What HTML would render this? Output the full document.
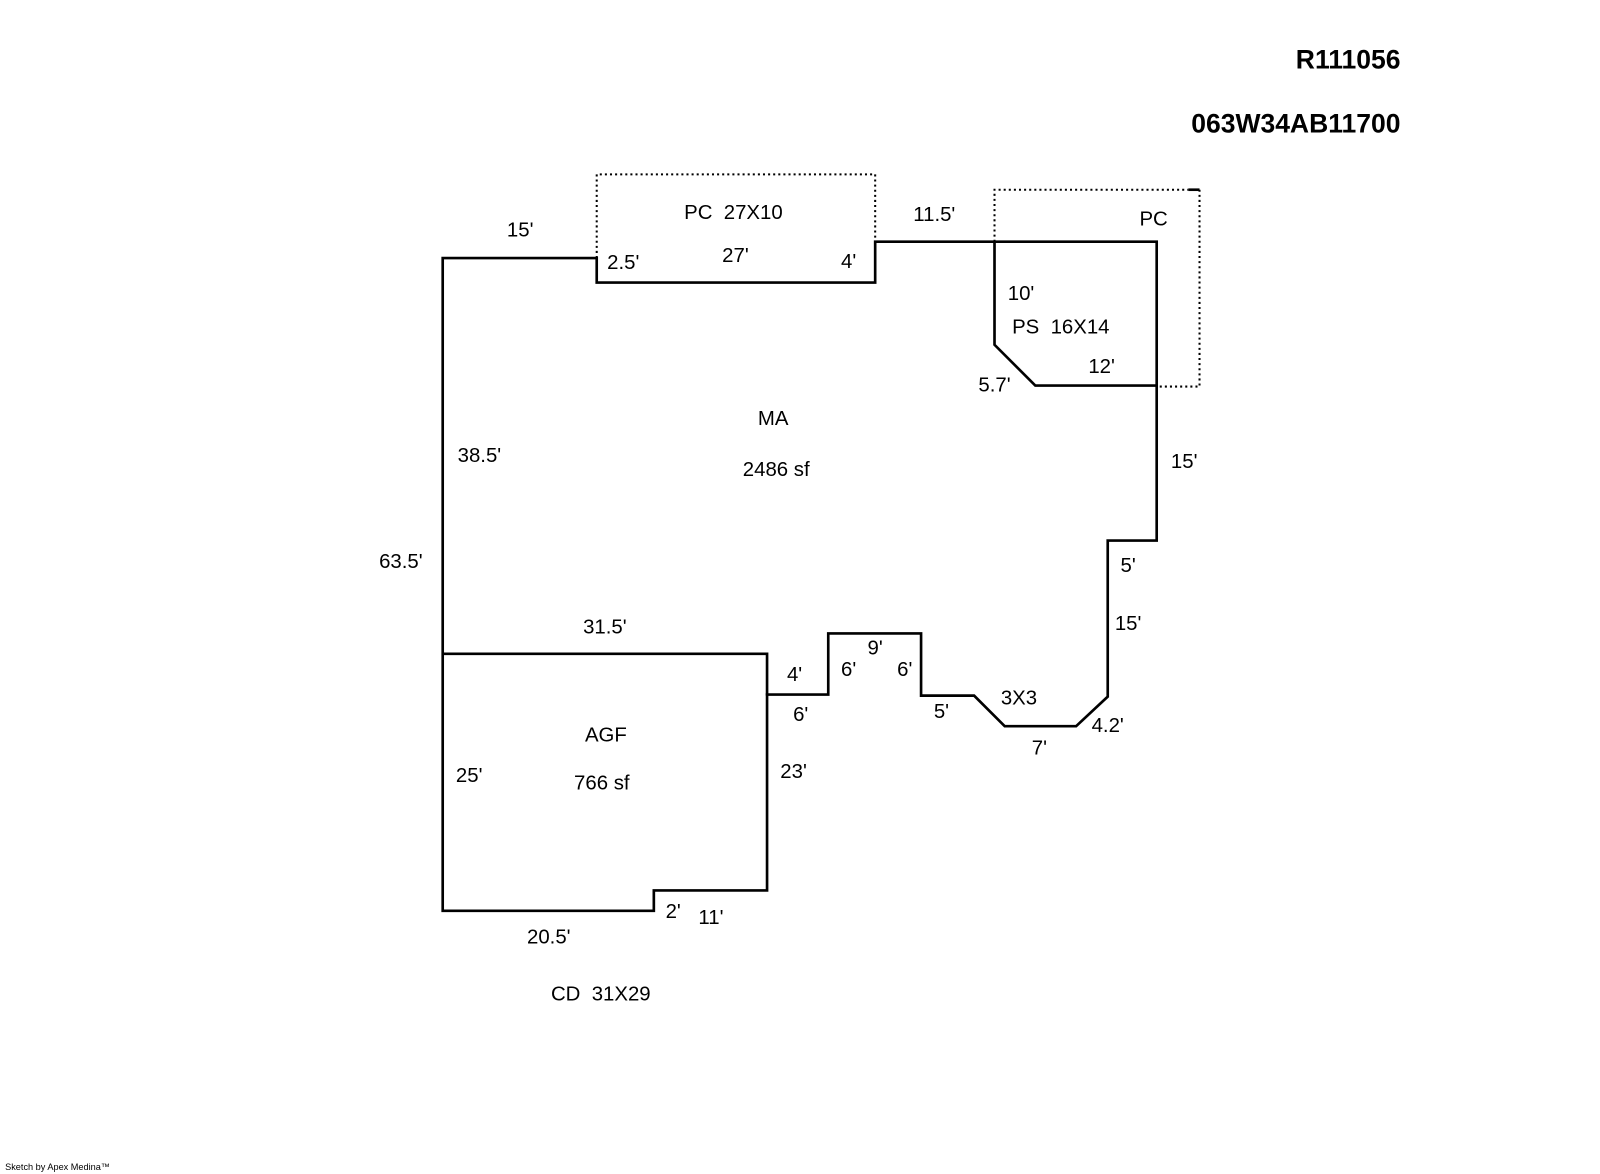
<!DOCTYPE html>
<html><head><meta charset="utf-8">
<style>
html,body{margin:0;padding:0;background:#fff;}
svg{display:block;}
text{font-family:"Liberation Sans",Arial,sans-serif;font-size:20px;fill:#000;}
</style></head>
<body>
<svg width="1600" height="1174" viewBox="0 0 1568.6 1151" xmlns="http://www.w3.org/2000/svg">
<g fill="none" stroke="#000" stroke-width="2.6" stroke-linejoin="miter">
<polygon points="434,253 585,253 585,277 858,277 858,237 1134,237 1134,530 1086,530 1086,683 1055,712 985,712 955,682 903,682 903,621 812,621 812,681 752,681 752,873 641,873 641,893 434,893"/>
<polyline points="434,641 752,641 752,682"/>
<polyline points="975,237 975,338 1015,378 1134,378"/>
<line x1="1165" y1="186" x2="1176" y2="186"/>
</g>
<g fill="none" stroke="#000" stroke-width="2" stroke-dasharray="2,3">
<polyline points="585,253 585,171 858,171 858,237"/>
<polyline points="975,237 975,186 1165,186"/>
<polyline points="1176,186 1176,379 1134,379"/>
</g>
<g text-anchor="middle" dominant-baseline="central">
<text x="510" y="226">15'</text>
<text x="719" y="209" xml:space="preserve">PC  27X10</text>
<text x="611" y="258">2.5'</text>
<text x="721" y="251">27'</text>
<text x="832" y="257">4'</text>
<text x="916" y="211">11.5'</text>
<text x="1131" y="215">PC</text>
<text x="1001" y="288">10'</text>
<text x="1040" y="321" xml:space="preserve">PS  16X14</text>
<text x="1080" y="360">12'</text>
<text x="975" y="378">5.7'</text>
<text x="758" y="411">MA</text>
<text x="761" y="461">2486 sf</text>
<text x="470" y="447">38.5'</text>
<text x="1161" y="453">15'</text>
<text x="393" y="551">63.5'</text>
<text x="1106" y="555">5'</text>
<text x="1106" y="612">15'</text>
<text x="593" y="615">31.5'</text>
<text x="858" y="636">9'</text>
<text x="779" y="662">4'</text>
<text x="832" y="657">6'</text>
<text x="887" y="657">6'</text>
<text x="999" y="685">3X3</text>
<text x="785" y="701">6'</text>
<text x="923" y="698">5'</text>
<text x="1086" y="712">4.2'</text>
<text x="1019" y="734">7'</text>
<text x="594" y="721">AGF</text>
<text x="590" y="768">766 sf</text>
<text x="460" y="761">25'</text>
<text x="778" y="757">23'</text>
<text x="660" y="894">2'</text>
<text x="697" y="900">11'</text>
<text x="538" y="919">20.5'</text>
<text x="589" y="975" xml:space="preserve">CD  31X29</text>
</g>
<text x="1373" y="67" text-anchor="end" style="font-weight:bold;font-size:26px">R111056</text>
<text x="1373" y="130" text-anchor="end" style="font-weight:bold;font-size:26px">063W34AB11700</text>
<text x="5" y="1147" style="font-size:9px">Sketch by Apex Medina™</text>
</svg>
</body></html>
